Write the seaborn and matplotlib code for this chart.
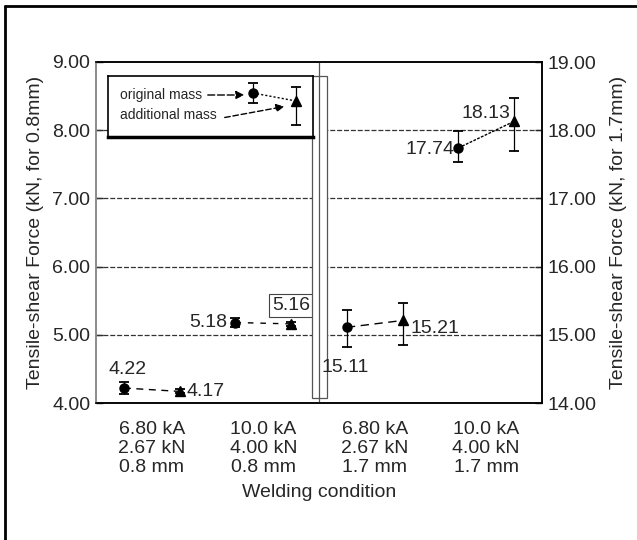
import numpy as np
import pandas as pd
import matplotlib
matplotlib.use("Agg")
import matplotlib.pyplot as plt
import seaborn as sns
from matplotlib.patches import Rectangle
from matplotlib.lines import Line2D

# ---------------- data ----------------
conditions = ["6.80 kA\n2.67 kN\n0.8 mm", "10.0 kA\n4.00 kN\n0.8 mm",
              "6.80 kA\n2.67 kN\n1.7 mm", "10.0 kA\n4.00 kN\n1.7 mm"]
axis_side = [0, 0, 1, 1]            # 0 -> left axis (0.8 mm), 1 -> right axis (1.7 mm)
original = [4.22, 5.18, 15.11, 17.74]
original_err_lo = [0.09, 0.06, 0.29, 0.20]
original_err_hi = [0.09, 0.06, 0.25, 0.25]
additional = [4.17, 5.16, 15.21, 18.13]
additional_err_lo = [0.03, 0.03, 0.36, 0.43]
additional_err_hi = [0.03, 0.03, 0.25, 0.34]
left_ticks = [4.0, 5.0, 6.0, 7.0, 8.0, 9.0]
right_ticks = [14.0, 15.0, 16.0, 17.0, 18.0, 19.0]

# ---------------- style ----------------
sns.set_style("white")
plt.rcParams["font.family"] = ["Liberation Sans", "DejaVu Sans"]
FS = 14

fig = plt.figure(figsize=(6.37, 5.40), dpi=100)
ax = fig.add_axes([96 / 637, 1 - 403 / 540, 446 / 637, 341 / 540])
ax2 = ax.twinx()

ax.set_xlim(0, 4)
ax.set_ylim(left_ticks[0], left_ticks[-1])
ax2.set_ylim(right_ticks[0], right_ticks[-1])

xpos = np.arange(len(conditions)) + 0.5
off = 0.25
line_styles = [(0, (5, 4)), (0, (4, 5)), (0, (6, 4)), (0, (2, 1))]

# value label placement (offset points, ha, va)
orig_lbl = [((3, 7), "center", "bottom"), ((-6, 0), "right", "center"),
            ((-1, -23), "center", "top"), ((-3, -1), "right", "center")]
add_lbl = [((5, 0), "left", "center"), ((0, 7), "center", "bottom"),
           ((6, -6), "left", "center"), ((-3, 6), "right", "center")]

for i, cond in enumerate(conditions):
    a = ax if axis_side[i] == 0 else ax2
    xo, xa = xpos[i] - off, xpos[i] + off
    df = pd.DataFrame({"x": [xo, xa], "y": [original[i], additional[i]]})
    sns.lineplot(data=df, x="x", y="y", ax=a, color="black", lw=1.0,
                 linestyle=line_styles[i], zorder=3)
    a.errorbar([xo], [original[i]], yerr=[[original_err_lo[i]], [original_err_hi[i]]],
               fmt="o", ms=6.5, color="black", ecolor="black", elinewidth=0.9,
               capsize=3.5, capthick=1.3, zorder=5)
    a.errorbar([xa], [additional[i]], yerr=[[additional_err_lo[i]], [additional_err_hi[i]]],
               fmt="^", ms=7, color="black", ecolor="black", elinewidth=0.9,
               capsize=3.5, capthick=1.3, zorder=5)
    (ox, oy), oha, ova = orig_lbl[i]
    a.annotate(f"{original[i]:.2f}", (xo, original[i]), xytext=(ox, oy),
               textcoords="offset points", ha=oha, va=ova, fontsize=FS)
    (ax_, ay_), aha, ava = add_lbl[i]
    bbox = None
    if i == 1:
        bbox = dict(boxstyle="square,pad=0.15", fc="none", ec="#444", lw=0.8)
    a.annotate(f"{additional[i]:.2f}", (xa, additional[i]), xytext=(ax_, ay_),
               textcoords="offset points", ha=aha, va=ava, fontsize=FS, bbox=bbox)

# grid lines
for t in left_ticks[1:-1]:
    ax.axhline(t, color="#333333", lw=0.9, linestyle=(0, (4, 1.5)), zorder=1)

# axis break separator
ax.add_patch(Rectangle((1.937, 4.08), 0.135, 4.72, fc="white", ec="#555555",
                       lw=0.9, zorder=4))
ax.plot([2.0, 2.0], [left_ticks[0], left_ticks[-1]], color="#555555", lw=0.9, zorder=4)

# ticks / labels
ax.set_yticks(left_ticks)
ax.set_yticklabels([f"{v:.2f}" for v in left_ticks], fontsize=FS)
ax2.set_yticks(right_ticks)
ax2.set_yticklabels([f"{v:.2f}" for v in right_ticks], fontsize=FS)
ax.tick_params(axis="y", direction="in", length=5, width=1, pad=4, left=True)
ax2.tick_params(axis="y", direction="in", length=5, width=1, pad=4, right=True)
ax.set_xticks(xpos)
ax.set_xticklabels(conditions, fontsize=FS, linespacing=1.14)
ax.tick_params(axis="x", length=0, pad=13)
ax.set_xlabel("Welding condition", fontsize=FS, labelpad=6)
ax.set_ylabel("Tensile-shear Force (kN, for 0.8mm)", fontsize=FS, labelpad=6)
ax2.set_ylabel("Tensile-shear Force (kN, for 1.7mm)", fontsize=FS, labelpad=10)

for s in ax.spines.values():
    s.set_color("black")
    s.set_linewidth(1.1)
for s in ax2.spines.values():
    s.set_color("black")
    s.set_linewidth(1.1)
ax.spines["left"].set_color("#888888")
ax2.spines["left"].set_color("#888888")

# ---------------- legend (drawn) ----------------
lg = fig.add_axes([108 / 637, 1 - 137 / 540, 205 / 637, 61 / 540])
lg.set_xlim(108, 313)
lg.set_ylim(137, 76)
lg.set_xticks([])
lg.set_yticks([])
lg.set_facecolor("white")
for s in lg.spines.values():
    s.set_color("black")
    s.set_linewidth(1.2)
lg.spines["bottom"].set_linewidth(2.5)
lg.text(120, 95, "original mass", fontsize=10, va="center", ha="left")
lg.text(120, 115, "additional mass", fontsize=10, va="center", ha="left")
lg.annotate("", xy=(247, 95), xytext=(205, 95),
            arrowprops=dict(arrowstyle="-|>", color="black", lw=1.0,
                            linestyle=(0, (5, 2)), mutation_scale=12))
lg.annotate("", xy=(287, 106), xytext=(222, 118),
            arrowprops=dict(arrowstyle="-|>", color="black", lw=1.0,
                            linestyle=(0, (4, 2)), mutation_scale=12))
lg.plot([253, 296], [93, 101], color="black", lw=1.0, linestyle=(0, (1.5, 1.5)))
lg.errorbar([253], [93], yerr=[[10], [10]], fmt="o", ms=6.5, color="black",
            elinewidth=0.9, capsize=3.5, capthick=1.3)
lg.errorbar([296], [101], yerr=[[14], [24]], fmt="^", ms=7, color="black",
            elinewidth=0.9, capsize=3.5, capthick=1.3)

# outer frame of the scanned figure
fig.add_artist(Line2D([5 / 637, 5 / 637], [0, 1 - 6 / 540], transform=fig.transFigure,
                      color="black", lw=2))
fig.add_artist(Line2D([5 / 637, 1], [1 - 6 / 540, 1 - 6 / 540], transform=fig.transFigure,
                      color="black", lw=2))

fig.savefig("out.png", dpi=100)
